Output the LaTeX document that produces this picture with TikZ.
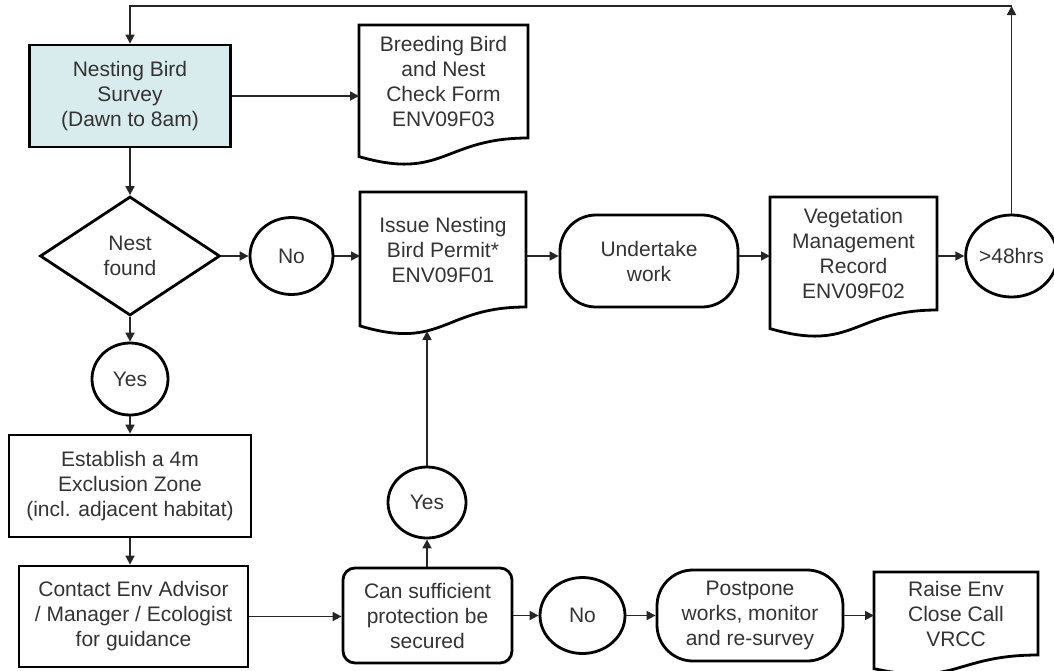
\documentclass[tikz,border=0pt]{standalone}
\usepackage{fontspec}
\setmainfont{Liberation Sans}
\usetikzlibrary{shapes.geometric,shapes.misc,arrows.meta,calc}
\definecolor{surveyfill}{RGB}{217,236,237}
\newcommand\docpath[1]{\draw[line width=2.8pt, line join=miter] (#1.north west) -- (#1.north east) -- (#1.south east) .. controls (#1.south) and ($(#1.north)!1.381!(#1.south)$) .. ($(#1.north west)!1.1645!(#1.south west)$) -- cycle;}
\begin{document}
\begin{tikzpicture}[x=1pt,y=-1pt,
 every node/.style={font=\fontsize{21}{25}\selectfont, text=black!80, align=center},
 rbox/.style={draw=black, line width=2.8pt, rectangle, inner sep=2pt},
 docbox/.style={rectangle, inner sep=2pt, outer sep=0pt},
 oval/.style={draw=black, line width=2.8pt, ellipse, inner sep=0pt},
 term/.style={draw=black, line width=2.8pt, rectangle, rounded corners=36pt, inner sep=2pt},
 arr/.style={draw=black!85, line width=1.7pt, -{Triangle[length=9pt,width=9pt]}}]
\useasboundingbox (0,0) rectangle (1054,670);

% nodes
\node[rbox, fill=surveyfill, minimum width=201pt, minimum height=102pt] (survey) at (130,96) {Nesting Bird\\Survey\\(Dawn to 8am)};
\node[docbox, minimum width=169pt, minimum height=113pt] (breed) at (443.5,81.5) {Breeding Bird\\and Nest\\Check Form\\ENV09F03};
\node[diamond, draw=black, line width=2.8pt, minimum width=180pt, minimum height=119pt, inner sep=0pt] (nest) at (130,256) {Nest\\found};
\node[oval, minimum width=83pt, minimum height=77pt] (no1) at (291.5,256) {No};
\node[docbox, minimum width=166pt, minimum height=115pt] (issue) at (443,249.5) {Issue Nesting\\Bird Permit*\\ENV09F01};
\node[term, minimum width=178pt, minimum height=92pt] (undertake) at (649,261) {Undertake\\work};
\node[docbox, minimum width=167pt, minimum height=113pt] (veg) at (853.5,253.5) {Vegetation\\Management\\Record\\ENV09F02};
\node[oval, minimum width=84pt, minimum height=82pt] (hrs) at (1011.5,256) {>48hrs};
\node[oval, minimum width=76pt, minimum height=72pt] (yes1) at (130,379) {Yes};
\node[rbox, minimum width=242pt, minimum height=102pt] (est) at (130,486) {Establish a 4m\\Exclusion Zone\\(incl. adjacent habitat)};
\node[rbox, minimum width=229pt, minimum height=101pt] (contact) at (133.5,616.5) {Contact Env Advisor\\/ Manager / Ecologist\\for guidance};
\node[draw=black, line width=2.8pt, rectangle, rounded corners=12pt, inner sep=2pt, minimum width=169pt, minimum height=95pt] (can) at (427.5,615.5) {Can sufficient\\protection be\\secured};
\node[oval, minimum width=78pt, minimum height=71pt] (yes2) at (427,502.5) {Yes};
\node[oval, minimum width=85pt, minimum height=76pt] (no2) at (582.5,615.5) {No};
\node[term, minimum width=186pt, minimum height=91pt] (postpone) at (750,615.5) {Postpone\\works, monitor\\and re-survey};
\node[docbox, minimum width=164pt, minimum height=83pt] (raise) at (956,613.5) {Raise Env\\Close Call\\VRCC};

\docpath{breed}
\docpath{issue}
\docpath{veg}
\docpath{raise}

\coordinate (top) at (1011.5,6);
\coordinate (issuebot) at (427,331);

% connectors
\draw[arr] (survey.east) -- (survey.east -| breed.west);
\draw[arr] (survey.south) -- (nest.north);
\draw[arr] (nest.east) -- (no1.west);
\draw[arr] (no1.east) -- (no1.east -| issue.west);
\draw[arr] (issue.east |- no1) -- (undertake.west |- no1);
\draw[arr] (undertake.east |- no1) -- (veg.west |- no1);
\draw[arr] (veg.east |- hrs) -- (hrs.west);
\draw[arr] (hrs.north) -- (top);
\draw[arr] (top) -- (survey.north |- top) -- (survey.north);
\draw[arr] (nest.south) -- (yes1.north);
\draw[arr] (yes1.south) -- (est.north);
\draw[arr] (est.south) -- (est.south |- contact.north);
\draw[arr] (contact.east) -- (contact.east -| can.west);
\draw[arr] (can.north -| yes2) -- (yes2.south);
\draw[arr] (yes2.north) -- (issuebot);
\draw[arr] (can.east) -- (no2.west);
\draw[arr] (no2.east) -- (postpone.west);
\draw[arr] (postpone.east) -- (postpone.east -| raise.west);
\end{tikzpicture}
\end{document}
